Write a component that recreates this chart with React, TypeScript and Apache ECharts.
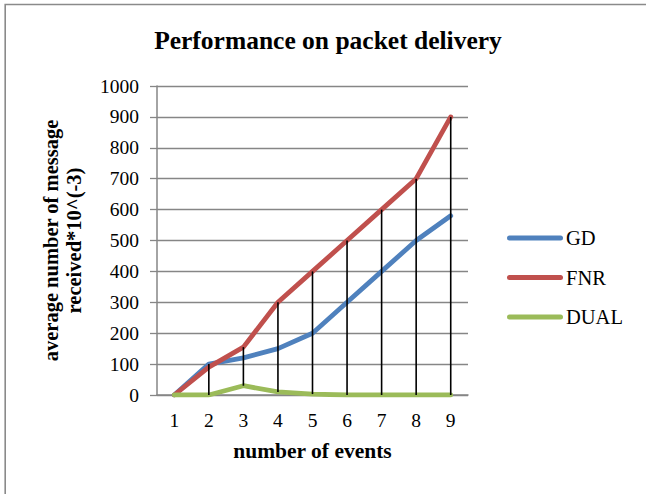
import React, { useEffect, useRef } from "react";
import * as echarts from "echarts";

const categories = ["1", "2", "3", "4", "5", "6", "7", "8", "9"];
const gdValues = [0, 100, 120, 150, 200, 300, 400, 500, 580];
const fnrValues = [0, 90, 155, 300, 400, 500, 600, 700, 900];
const dualValues = [0, 0, 30, 10, 3, 0, 0, 0, 0];
const yTicks = { min: 0, max: 1000, interval: 100 };

const FONT = "Liberation Serif";
const GRAY = "#868686";

export default function App() {
  const ref = useRef<HTMLDivElement>(null);

  useEffect(() => {
    if (!ref.current) return;
    const chart = echarts.init(ref.current, null, { renderer: "svg" });

    const highLow = categories.map((_, i) => {
      const vals = [gdValues[i], fnrValues[i], dualValues[i]];
      return [i, Math.max(...vals), Math.min(...vals)];
    });

    const lineSeries = (name: string, data: number[], color: string) => ({
      name,
      type: "line",
      data,
      showSymbol: false,
      symbol: "none",
      z: 2,
      lineStyle: { color, width: 4.8, cap: "round", join: "round" },
      itemStyle: { color },
    });

    chart.setOption({
      animation: false,
      textStyle: { fontFamily: FONT },
      title: {
        text: "Performance on packet delivery",
        left: 328,
        textAlign: "center",
        top: 27,
        padding: 0,
        textStyle: { fontFamily: FONT, fontSize: 25.5, fontWeight: "bold", color: "#000" },
      },
      grid: { left: 157, right: 178, top: 86, bottom: 99, containLabel: false },
      legend: {
        data: ["GD", "FNR", "DUAL"],
        orient: "vertical",
        left: 507,
        top: 227,
        padding: 0,
        itemWidth: 56,
        itemHeight: 5,
        itemGap: 17.5,
        icon: "path://M2.5,0 L53.5,0 A2.5,2.5 0 0 1 53.5,5 L2.5,5 A2.5,2.5 0 0 1 2.5,0 Z",
        textStyle: { fontFamily: FONT, fontSize: 20.5, color: "#000", lineHeight: 22, padding: [0, 0, 0, -2] },
      },
      xAxis: {
        type: "category",
        data: categories,
        boundaryGap: true,
        name: "number of events",
        nameLocation: "middle",
        nameGap: 45,
        nameTextStyle: { fontFamily: FONT, fontSize: 21.5, fontWeight: "bold", color: "#000" },
        axisLine: { lineStyle: { color: GRAY, width: 1.5 } },
        axisTick: { show: false },
        axisLabel: { fontFamily: FONT, fontSize: 19.5, color: "#000", margin: 15 },
        splitLine: { show: false },
      },
      yAxis: {
        type: "value",
        min: yTicks.min,
        max: yTicks.max,
        interval: yTicks.interval,
        name: "average number of message\nreceived*10^(-3)",
        nameLocation: "middle",
        nameGap: 72,
        nameTextStyle: { fontFamily: FONT, fontSize: 20.5, fontWeight: "bold", color: "#000", lineHeight: 23 },
        axisLine: { show: true, lineStyle: { color: GRAY, width: 1.5 } },
        axisTick: { show: true, length: 7, lineStyle: { color: GRAY, width: 1.3 } },
        axisLabel: {
          fontFamily: FONT,
          fontSize: 19.5,
          color: "#000",
          margin: 18,
          formatter: (v: number) => String(v),
        },
        splitLine: { show: true, lineStyle: { color: GRAY, width: 1.3 } },
      },
      series: [
        lineSeries("GD", gdValues, "#4F81BD"),
        lineSeries("FNR", fnrValues, "#C0504D"),
        lineSeries("DUAL", dualValues, "#9BBB59"),
        {
          name: "highlow",
          type: "custom",
          data: highLow,
          z: 5,
          silent: true,
          renderItem: (_params: any, api: any) => {
            const hi = api.coord([api.value(0), api.value(1)]);
            const lo = api.coord([api.value(0), api.value(2)]);
            return {
              type: "line",
              shape: { x1: hi[0], y1: hi[1], x2: lo[0], y2: lo[1] },
              style: { stroke: "#000", lineWidth: 1.6 },
            };
          },
        },
      ],
      graphic: [
        {
          type: "rect",
          shape: { x: 5.2, y: 4.5, width: 800, height: 800 },
          style: { fill: "none", stroke: "#8a8a8a", lineWidth: 1.6 },
          silent: true,
        },
      ],
    });

    return () => chart.dispose();
  }, []);

  return (
    <div
      ref={ref}
      style={{ position: "fixed", left: 0, top: 0, width: 646, height: 494, background: "#fff" }}
    />
  );
}
